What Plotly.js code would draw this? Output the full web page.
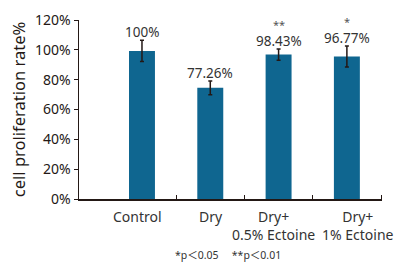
<!DOCTYPE html>
<html>
<head>
<meta charset="utf-8">
<script src="https://cdn.plot.ly/plotly-3.0.1.min.js"></script>
<style>html,body{margin:0;padding:0;background:#fff;}#chart{width:396px;height:264px;}</style>
</head>
<body>
<div id="chart"></div>
<script>
const categories = ["Control", "Dry", "Dry+<br>0.5% Ectoine", "Dry+<br>1% Ectoine"];
const values = [99.3, 74.5, 96.8, 95.5];
const errors = [7.2, 4.6, 3.8, 7.0];
const valueLabels = ["100%", "77.26%", "98.43%", "96.77%"];
const starLabels = ["", "", "**", "*"];
const yTickVals = [0, 20, 40, 60, 80, 100, 120];
const yTickText = ["0%", "20%", "40%", "60%", "80%", "100%", "120%"];
const footnote = "*p\uFF1C0.05\u3000 **p\uFF1C0.01";

const xIdx = categories.map((c, i) => i);
const FONT = "Noto Sans, Noto Sans CJK JP, sans-serif";
const LINE = "#231815";
const labelShift = [-4, 1, -5, 11];

const trace = {
  type: "bar",
  x: xIdx,
  y: values,
  width: 0.38,
  marker: {color: "#0f6690", line: {width: 0}},
  error_y: {type: "data", array: errors, visible: true, color: LINE, thickness: 1.5, width: 2},
  hoverinfo: "skip"
};

const annotations = [];
xIdx.forEach((xi, i) => {
  annotations.push({
    x: xi, y: values[i] + errors[i], xref: "x", yref: "y",
    text: valueLabels[i], showarrow: false, yanchor: "bottom", yshift: -3,
    font: {family: FONT, size: 13.5, color: "#333"}
  });
  if (starLabels[i]) {
    annotations.push({
      x: xi, y: values[i] + errors[i], xref: "x", yref: "y",
      text: starLabels[i], showarrow: false, yanchor: "bottom", yshift: 15,
      font: {family: FONT, size: 11, color: "#555"}
    });
  }
  annotations.push({
    x: xi, y: 0, xref: "x", yref: "y",
    text: categories[i], showarrow: false, xanchor: "center", yanchor: "top",
    align: "center", xshift: labelShift[i], yshift: -6,
    font: {family: FONT, size: 14, color: "#333"}
  });
});
annotations.push({
  x: (228 - 79) / (396 - 79 - 14), y: -(255 - 199) / (199 - 20),
  xref: "paper", yref: "paper", text: footnote, showarrow: false,
  xanchor: "center", yanchor: "middle",
  font: {family: FONT, size: 10.5, color: "#333"}
});

const layout = {
  width: 396, height: 264,
  margin: {l: 79, r: 14, t: 20, b: 65},
  paper_bgcolor: "#fff", plot_bgcolor: "#fff",
  showlegend: false,
  font: {family: FONT, color: "#333"},
  xaxis: {
    type: "linear",
    range: [-0.922, 3.514],
    tickmode: "array", tickvals: xIdx, ticktext: categories.map(() => ""),
    ticks: "", showgrid: false, zeroline: false,
    showline: true, linecolor: LINE, linewidth: 2,
    minor: {tickmode: "array", tickvals: [0.5, 1.5, 2.5, 3.5], ticks: "inside", ticklen: 4, tickwidth: 1, tickcolor: LINE, showgrid: false},
    fixedrange: true
  },
  yaxis: {
    range: [0, 120],
    tickmode: "array", tickvals: yTickVals, ticktext: yTickText,
    ticks: "outside", ticklen: 4, tickwidth: 1, tickcolor: LINE,
    showgrid: false, zeroline: false,
    showline: true, linecolor: LINE, linewidth: 1.5,
    tickfont: {family: FONT, size: 14, color: "#231815"},
    title: {text: "cell proliferation rate%", font: {family: FONT, size: 16.5, color: "#231815"}, standoff: 5},
    fixedrange: true
  },
  annotations: annotations
};

Plotly.newPlot("chart", [trace], layout, {displayModeBar: false, staticPlot: true});
</script>
</body>
</html>
